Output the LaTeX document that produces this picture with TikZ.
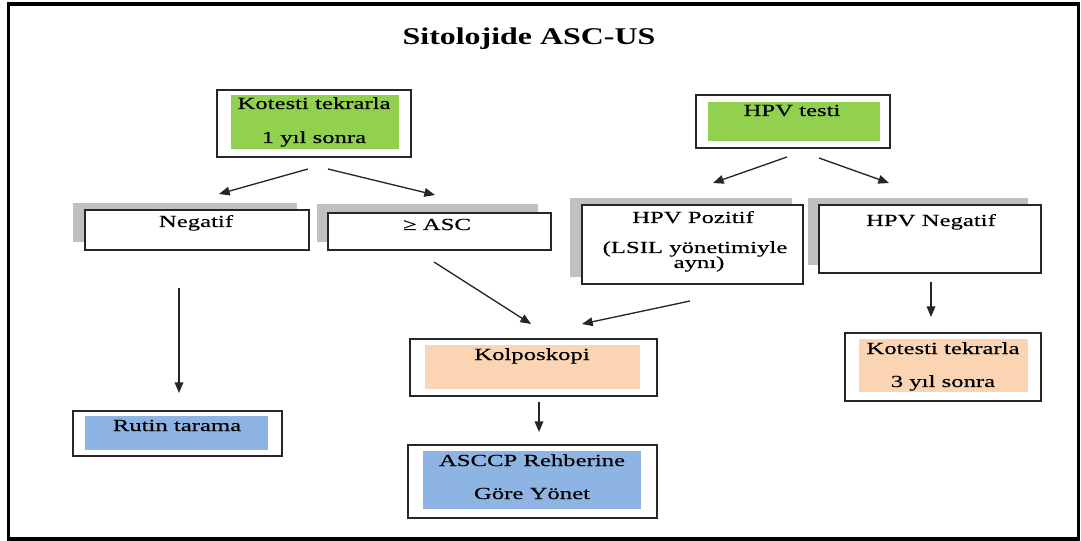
\documentclass[tikz,border=0pt]{standalone}
\usepackage{fontspec}
\setmainfont{Liberation Serif}
\newfontfamily\boxfont[FakeStretch=1.46,FakeBold=0.35]{Liberation Serif}
\newfontfamily\titlefont[FakeStretch=1.33]{Liberation Serif}
\usetikzlibrary{arrows.meta,fit}
\definecolor{cgreen}{HTML}{92D050}
\definecolor{cpeach}{HTML}{FBD4B4}
\definecolor{cblue}{HTML}{8EB4E3}
\definecolor{cshade}{HTML}{C0C0C0}
\begin{document}
\begin{tikzpicture}[x=0.75pt,y=-0.75pt,
  frame/.style={draw=black, line width=2.3pt, inner sep=0pt},
  boxline/.style={draw=black!85, line width=1.1pt, fill=white, inner sep=0pt},
  shade/.style={fill=cshade, inner sep=0pt},
  area/.style={inner sep=0pt},
  txt/.style={font=\boxfont\fontsize{12.7}{15}\selectfont, anchor=base, inner sep=0pt},
  arr/.style={-{Triangle[length=8pt,width=6.5pt]}, line width=1pt, draw=black!85}]
\useasboundingbox (0,0) rectangle (1081,541);
\node[frame, fit={(8.5,4)(1078.5,539)}] (frame) {};

% title
\node[anchor=base, inner sep=0pt, font=\titlefont\bfseries\fontsize{18}{22}\selectfont] (title) at (529,45) {Sitolojide ASC-US};

% cytology repeat after one year
\node[boxline, fit={(217,90)(411,157)}] (kt1) {};
\node[area, fill=cgreen, fit={(231,95)(399,149)}] (kt1f) {};
\node[txt] (kt1a) at (314,109) {Kotesti tekrarla};
\node[txt] (kt1b) at (314,143) {1 yıl sonra};

% HPV test
\node[boxline, fit={(696,95)(890,148)}] (hpv) {};
\node[area, fill=cgreen, fit={(708,102)(880,141)}] (hpvf) {};
\node[txt] (hpva) at (792,116) {HPV testi};

% negative
\node[shade, fit={(73,203)(297,242)}] (negs) {};
\node[boxline, fit={(85,210)(309,250)}] (neg) {};
\node[txt] (nega) at (196,227) {Negatif};

% >= ASC
\node[shade, fit={(317,204)(538,242)}] (ascs) {};
\node[boxline, fit={(328,213)(551,250)}] (asc) {};
\node[txt] (asca) at (437,230) {≥ ASC};

% HPV positive
\node[shade, fit={(570,198)(792,277)}] (hposs) {};
\node[boxline, fit={(582,205)(803,284)}] (hpos) {};
\node[txt] (hposa) at (693,223) {HPV Pozitif};
\node[txt] (hposb) at (695,253) {(LSIL yönetimiyle};
\node[txt] (hposc) at (699,268) {aynı)};

% HPV negative
\node[shade, fit={(808,198)(1028,265)}] (hnegs) {};
\node[boxline, fit={(819,205)(1041,273)}] (hneg) {};
\node[txt] (hnega) at (931,226) {HPV Negatif};

% colposcopy
\node[boxline, fit={(410,339)(657,396)}] (kol) {};
\node[area, fill=cpeach, fit={(425,345)(640,389)}] (kolf) {};
\node[txt] (kola) at (532,360) {Kolposkopi};

% ASCCP guideline
\node[boxline, fit={(408,445)(657,518)}] (asccp) {};
\node[area, fill=cblue, fit={(423,451)(641,509)}] (asccpf) {};
\node[txt] (asccpa) at (532,466) {ASCCP Rehberine};
\node[txt] (asccpb) at (532,499) {Göre Yönet};

% routine screening
\node[boxline, fit={(73,411)(282,456)}] (rut) {};
\node[area, fill=cblue, fit={(85,416)(268,450)}] (rutf) {};
\node[txt] (ruta) at (177,431) {Rutin tarama};

% cytology repeat after three years
\node[boxline, fit={(845,333)(1041,401)}] (kt3) {};
\node[area, fill=cpeach, fit={(859,339)(1028,392)}] (kt3f) {};
\node[txt] (kt3a) at (943,354) {Kotesti tekrarla};
\node[txt] (kt3b) at (943,387) {3 yıl sonra};

% arrow end points
\coordinate (a1s) at (308,169); \coordinate (a1e) at (219,194);
\coordinate (a2s) at (328,169); \coordinate (a2e) at (435,195);
\coordinate (a3s) at (787,157); \coordinate (a3e) at (713,183);
\coordinate (a4s) at (819,158); \coordinate (a4e) at (889,183);
\coordinate (a5s) at (179,288); \coordinate (a5e) at (179,393);
\coordinate (a6s) at (434,262); \coordinate (a6e) at (531,324);
\coordinate (a7s) at (690,301); \coordinate (a7e) at (582,324);
\coordinate (a8s) at (931,282); \coordinate (a8e) at (931,317);
\coordinate (a9s) at (539,402); \coordinate (a9e) at (539,432);

\draw[arr] (a1s) -- (a1e);
\draw[arr] (a2s) -- (a2e);
\draw[arr] (a3s) -- (a3e);
\draw[arr] (a4s) -- (a4e);
\draw[arr] (a5s) -- (a5e);
\draw[arr] (a6s) -- (a6e);
\draw[arr] (a7s) -- (a7e);
\draw[arr] (a8s) -- (a8e);
\draw[arr] (a9s) -- (a9e);
\end{tikzpicture}
\end{document}
